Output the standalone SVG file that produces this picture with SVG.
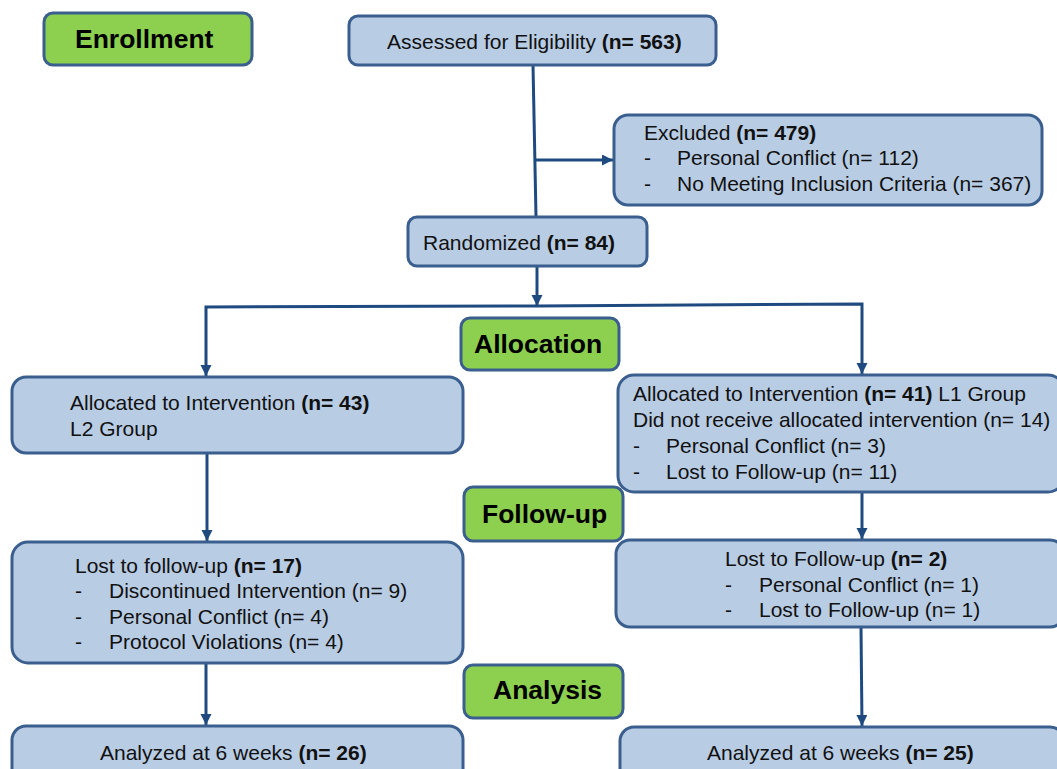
<svg xmlns="http://www.w3.org/2000/svg" width="1057" height="769" viewBox="0 0 1057 769">
  <style>
    .box { fill: #B8CCE4; stroke: #3A5F8E; stroke-width: 3; }
    .lbl { fill: #8DD050; stroke: #3A5F8E; stroke-width: 3; }
    .t { font-family: "Liberation Sans", Arial, sans-serif; font-size: 21px; fill: #111; }
    .b { font-weight: bold; }
    .h { font-family: "Liberation Sans", Arial, sans-serif; font-size: 26.5px; font-weight: bold; fill: #000; }
    .c { fill: none; stroke: #1F4A80; stroke-width: 3; }
  </style>
  <defs>
    <marker id="arr" markerUnits="userSpaceOnUse" markerWidth="14" markerHeight="14" refX="11" refY="5.5" orient="auto">
      <path d="M0,0 L11,5.5 L0,11 Z" fill="#1F4A80"/>
    </marker>
  </defs>
  <rect width="1057" height="769" fill="#fff"/>

  <g id="connectors">
    <path class="c" d="M533,65 L536,217"/>
    <path class="c" d="M534,160 L613,160" marker-end="url(#arr)"/>
    <path class="c" d="M537,266 L537,306" marker-end="url(#arr)"/>
    <path class="c" d="M537,306 L206,307 L206,376" marker-end="url(#arr)"/>
    <path class="c" d="M537,306 L862,304 L862,374" marker-end="url(#arr)"/>
    <path class="c" d="M207,453 L207,541" marker-end="url(#arr)"/>
    <path class="c" d="M206,663 L206,725" marker-end="url(#arr)"/>
    <path class="c" d="M862,492 L862,539" marker-end="url(#arr)"/>
    <path class="c" d="M861,627 L862,726" marker-end="url(#arr)"/>
  </g>

  <g id="enrollment">
    <rect class="lbl" x="44" y="13" width="208" height="52" rx="9"/>
    <text class="h" x="75" y="48">Enrollment</text>
  </g>

  <g id="assessed">
    <rect class="box" x="349" y="16" width="367" height="49" rx="9"/>
    <text class="t" x="387" y="49">Assessed for Eligibility <tspan class="b">(n= 563)</tspan></text>
  </g>

  <g id="excluded">
    <rect class="box" x="614" y="115" width="428" height="90" rx="14"/>
    <text class="t" x="644" y="140">Excluded <tspan class="b">(n= 479)</tspan></text>
    <text class="t" x="644" y="165">-</text>
    <text class="t" x="677" y="165">Personal Conflict (n= 112)</text>
    <text class="t" x="644" y="191">-</text>
    <text class="t" x="677" y="191">No Meeting Inclusion Criteria (n= 367)</text>
  </g>

  <g id="randomized">
    <rect class="box" x="408" y="217" width="239" height="49" rx="9"/>
    <text class="t" x="423" y="250">Randomized <tspan class="b">(n= 84)</tspan></text>
  </g>

  <g id="allocation">
    <rect class="lbl" x="461" y="318" width="158" height="52" rx="9"/>
    <text class="h" x="474" y="353">Allocation</text>
  </g>

  <g id="alloc-left">
    <rect class="box" x="12" y="377" width="451" height="76" rx="14"/>
    <text class="t" x="70" y="410">Allocated to Intervention <tspan class="b">(n= 43)</tspan></text>
    <text class="t" x="70" y="436">L2 Group</text>
  </g>

  <g id="alloc-right">
    <rect class="box" x="618" y="375" width="446" height="117" rx="16"/>
    <text class="t" x="633" y="401">Allocated to Intervention <tspan class="b">(n= 41)</tspan> L1 Group</text>
    <text class="t" x="633" y="427">Did not receive allocated intervention (n= 14)</text>
    <text class="t" x="633" y="453">-</text>
    <text class="t" x="666" y="453">Personal Conflict (n= 3)</text>
    <text class="t" x="633" y="479">-</text>
    <text class="t" x="666" y="479">Lost to Follow-up (n= 11)</text>
  </g>

  <g id="followup">
    <rect class="lbl" x="464" y="487" width="159" height="54" rx="9"/>
    <text class="h" x="482" y="523">Follow-up</text>
  </g>

  <g id="lost-left">
    <rect class="box" x="12" y="542" width="451" height="121" rx="16"/>
    <text class="t" x="75" y="573">Lost to follow-up <tspan class="b">(n= 17)</tspan></text>
    <text class="t" x="75" y="598">-</text>
    <text class="t" x="109" y="598">Discontinued Intervention (n= 9)</text>
    <text class="t" x="75" y="624">-</text>
    <text class="t" x="109" y="624">Personal Conflict (n= 4)</text>
    <text class="t" x="75" y="649">-</text>
    <text class="t" x="109" y="649">Protocol Violations (n= 4)</text>
  </g>

  <g id="lost-right">
    <rect class="box" x="616" y="540" width="448" height="87" rx="14"/>
    <text class="t" x="725" y="566">Lost to Follow-up <tspan class="b">(n= 2)</tspan></text>
    <text class="t" x="725" y="592">-</text>
    <text class="t" x="759" y="592">Personal Conflict (n= 1)</text>
    <text class="t" x="725" y="617">-</text>
    <text class="t" x="759" y="617">Lost to Follow-up (n= 1)</text>
  </g>

  <g id="analysis">
    <rect class="lbl" x="464" y="665" width="159" height="53" rx="9"/>
    <text class="h" x="493" y="699">Analysis</text>
  </g>

  <g id="analyzed-left">
    <rect class="box" x="12" y="726" width="451" height="70" rx="14"/>
    <text class="t" x="100" y="760">Analyzed at 6 weeks <tspan class="b">(n= 26)</tspan></text>
  </g>

  <g id="analyzed-right">
    <rect class="box" x="620" y="727" width="444" height="70" rx="14"/>
    <text class="t" x="707" y="760">Analyzed at 6 weeks <tspan class="b">(n= 25)</tspan></text>
  </g>
</svg>
